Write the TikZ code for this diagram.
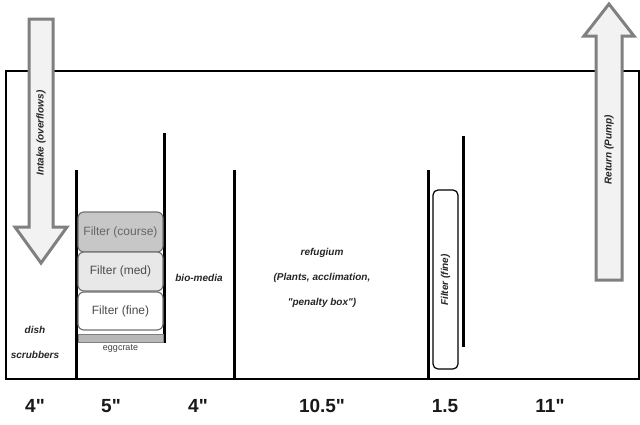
\documentclass[tikz,border=0pt]{standalone}
\usepackage{fontspec}
\setmainfont{Liberation Sans}[Ligatures=TeXOff]
\begin{document}
\begin{tikzpicture}[x=1pt,y=-1pt,
  tank/.style={draw=black,line width=1.5pt},
  baffle/.style={draw=black,line width=3pt},
  blockarrow/.style={draw=black!50,fill=black!5,line width=3pt,line join=miter},
  filterbox/.style={draw=black!55,line width=1.2pt,rounded corners=6pt,minimum width=85pt,inner sep=0pt,font=\fontsize{12}{14}\selectfont,text=black!70},
  lbl/.style={font=\fontsize{10}{12}\selectfont\bfseries\itshape,text=black!85,inner sep=0pt},
  dim/.style={font=\fontsize{19}{22}\selectfont\bfseries,text=black!90,inner sep=0pt}]
\useasboundingbox (0,0) rectangle (640,424);
% tank
\draw[tank] (6,71) rectangle (639,379);
% baffles
\draw[baffle] (76,170) -- (76,379);
\draw[baffle] (164,133) -- (164,343);
\draw[baffle] (234,170) -- (234,379);
\draw[baffle] (428,170) -- (428,379);
\draw[baffle] (463,136) -- (463,347);
% filter stack
\node[filterbox,fill=black!22,minimum height=40pt,text=black!60] (fcourse) at (120.5,232) {Filter (course)};
\node[filterbox,fill=black!9,minimum height=39pt] (fmed) at (120.5,271.5) {Filter (med)};
\node[filterbox,fill=white,minimum height=38pt] (ffine) at (120.5,311) {Filter (fine)};
\node[draw=black!50,fill=black!28,line width=1pt,minimum width=85pt,minimum height=8pt,inner sep=0pt] (egg) at (120.5,338) {};
\node[font=\fontsize{9}{11}\selectfont,text=black!75,inner sep=0pt] (eggl) at (120.5,349) {eggcrate};
% fine filter (vertical)
\node[draw=black,line width=1.2pt,rounded corners=5pt,minimum width=25pt,minimum height=179pt,inner sep=0pt,fill=white] (ff2) at (445.5,279.5) {};
\node[lbl,rotate=90] (ff2l) at (445.5,280) {Filter (fine)};
% intake arrow
\draw[blockarrow] (29,19) -- (53,19) -- (53,227) -- (67,227) -- (41,263) -- (15,227) -- (29,227) -- cycle;
\node[lbl,rotate=90] (intake) at (41,133) {Intake (overflows)};
% return arrow
\draw[blockarrow] (596,280) -- (622,280) -- (622,36) -- (634,36) -- (609,4) -- (584,36) -- (596,36) -- cycle;
\node[lbl,rotate=90] (ret) at (609,150) {Return (Pump)};
% labels
\node[lbl] (dish) at (35,330) {dish};
\node[lbl] (scrub) at (35,355) {scrubbers};
\node[lbl] (bio) at (199,278) {bio-media};
\node[lbl] (ref1) at (322,253) {refugium};
\node[lbl] (ref2) at (322,278) {(Plants, acclimation,};
\node[lbl] (ref3) at (322,303) {"penalty box")};
% dimensions
\node[dim] (d1) at (35,406) {4"};
\node[dim] (d2) at (111,406) {5"};
\node[dim] (d3) at (198,406) {4"};
\node[dim] (d4) at (322,406) {10.5"};
\node[dim] (d5) at (445,406) {1.5};
\node[dim] (d6) at (550,406) {11"};
\end{tikzpicture}
\end{document}
